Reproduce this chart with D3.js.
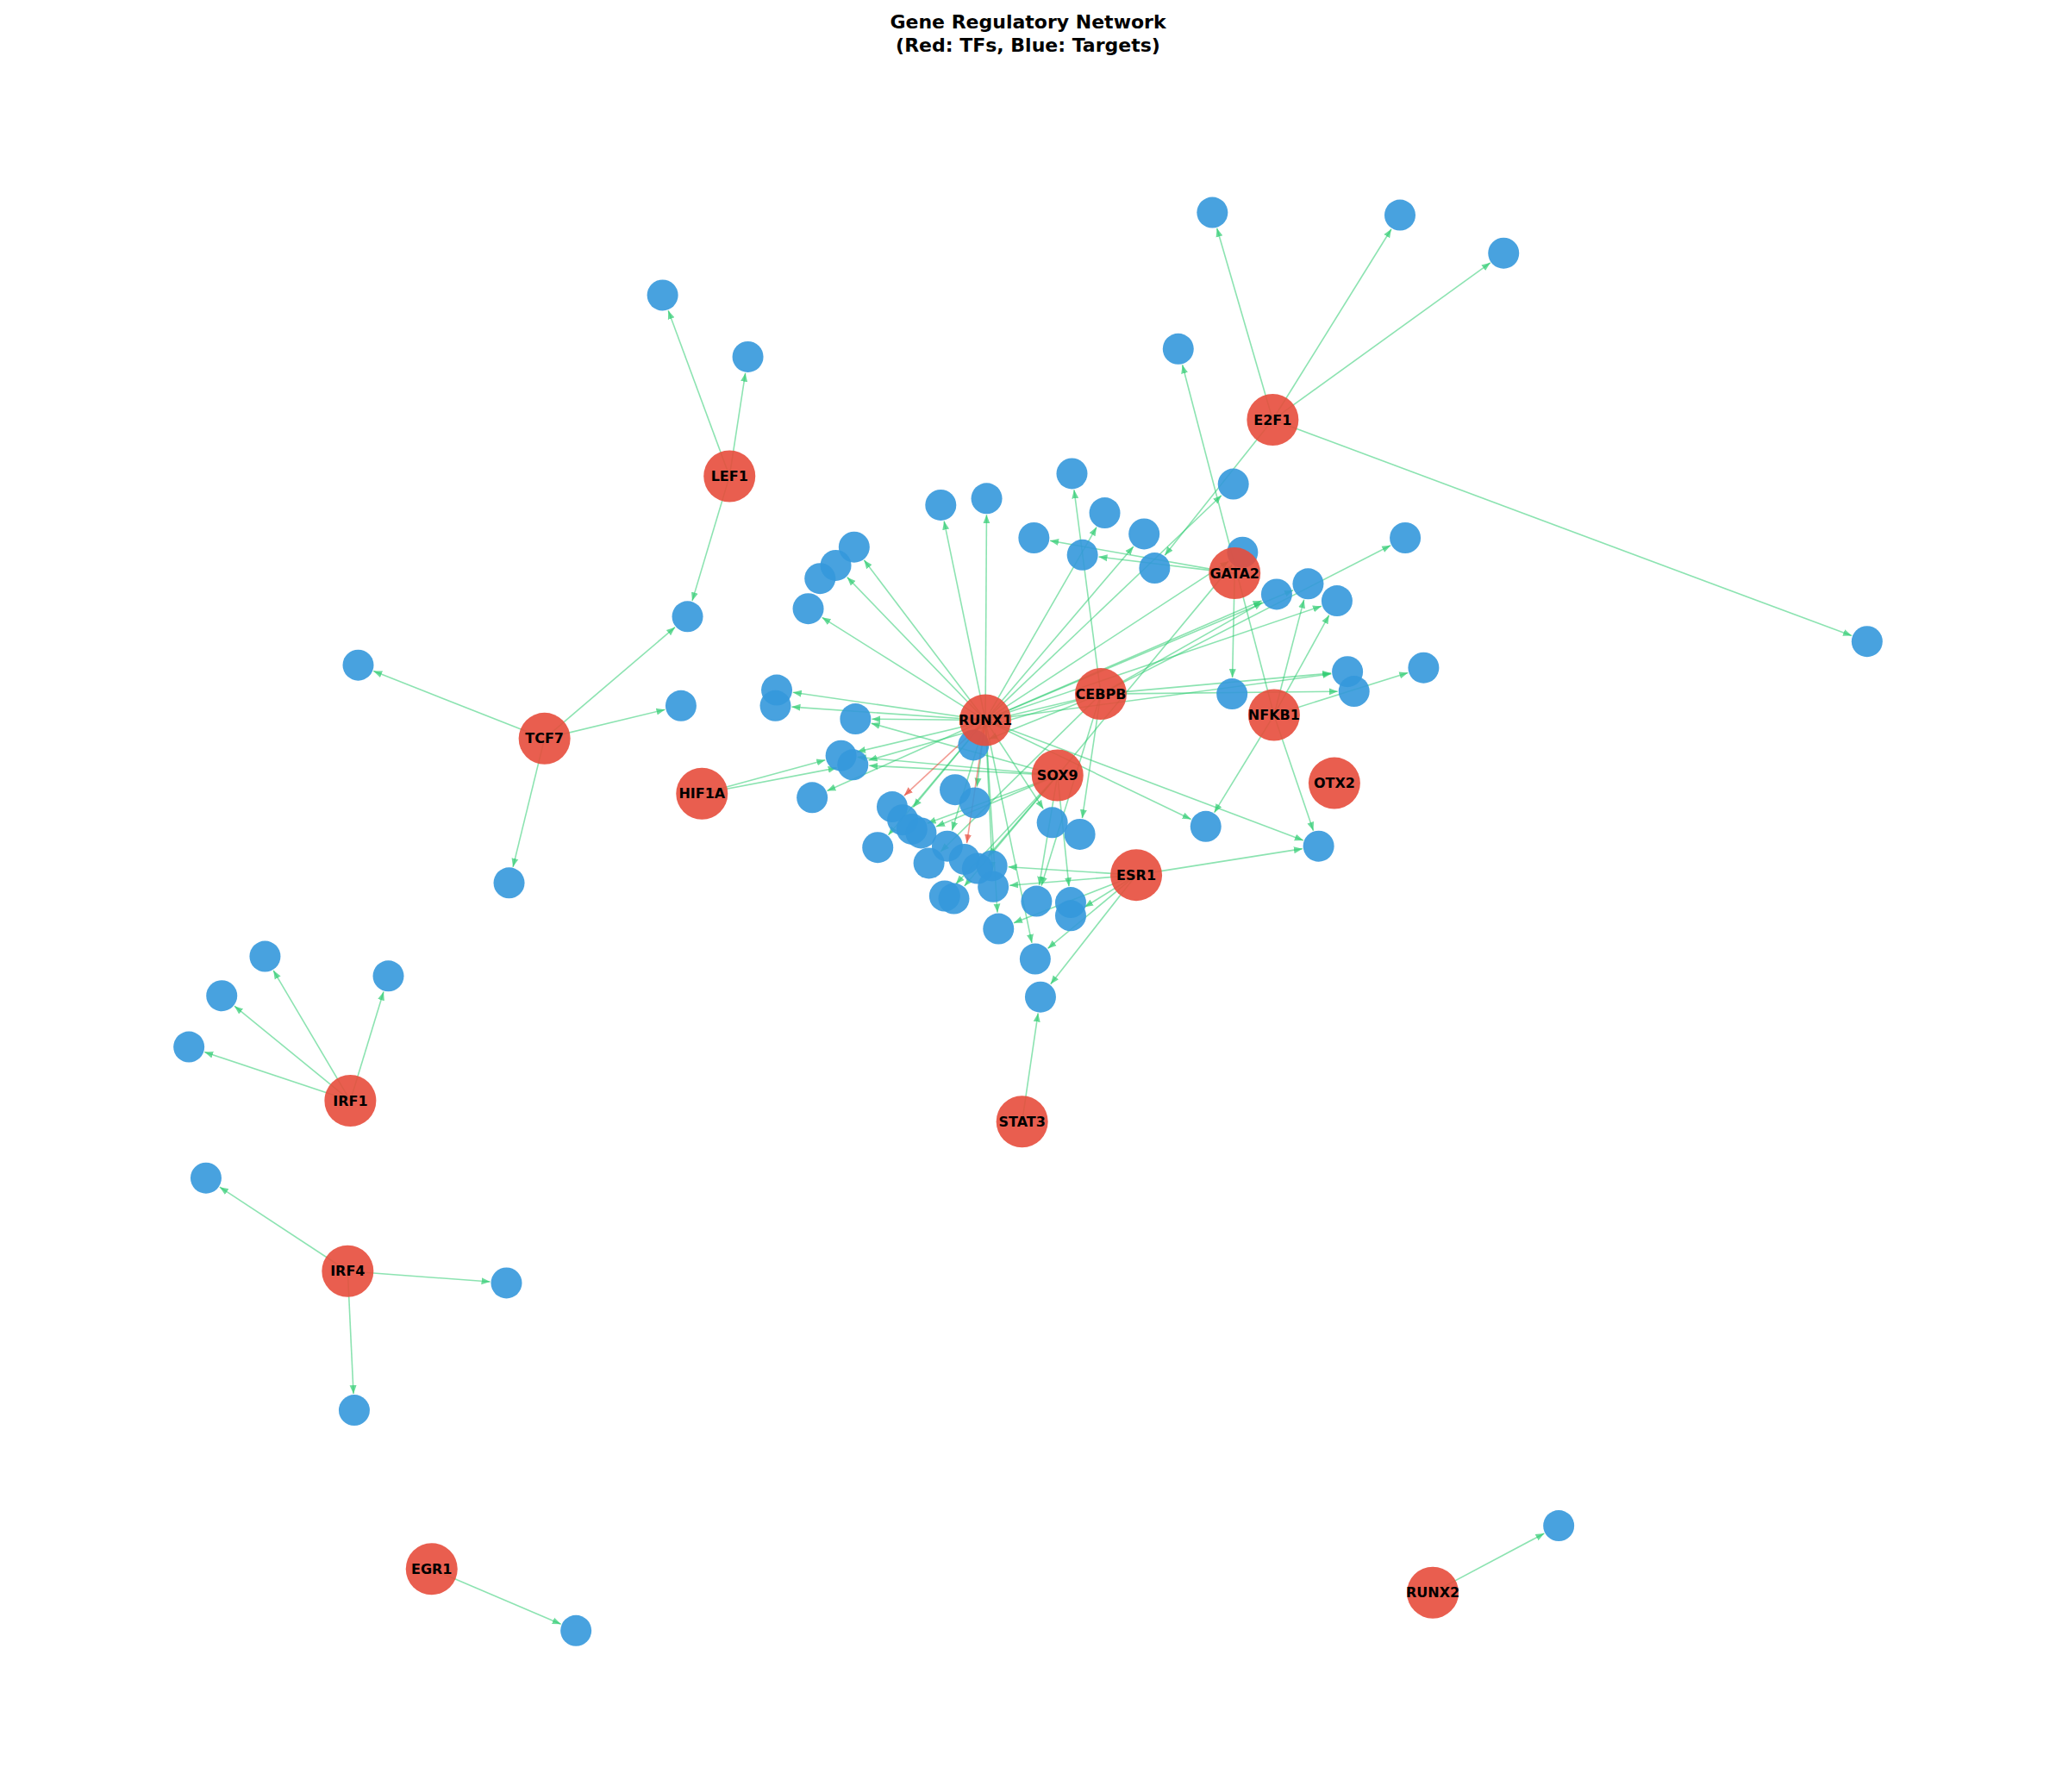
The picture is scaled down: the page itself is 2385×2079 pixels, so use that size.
<!DOCTYPE html>
<html><head><meta charset="utf-8">
<script src="https://cdn.jsdelivr.net/npm/d3@7"></script>
<style>body{margin:0;background:#fff;}</style>
</head><body><div id="graphic"></div>
<script>
// layout positions (layout units)
var tfs = [
  ["RUNX1",751,549],["CEBPB",839,529],["GATA2",941,437],["E2F1",970,320],["LEF1",556,363],
  ["TCF7",415,563],["HIF1A",535,605],["SOX9",806,591],["NFKB1",971,545],["OTX2",1017,597],
  ["ESR1",866,667],["STAT3",779,855],["IRF1",267,839],["IRF4",265,969],["EGR1",329,1196],["RUNX2",1092,1214]
];
var targets = [
  [924,162],[1067,164],[1146,193],[1423,489],[505,225],[570,272],[524,470],[273,507],[519,538],[388,673],
  [202,729],[169,759],[144,798],[296,744],[157,898],[386,978],[270,1075],[439,1243],[1188,1163],[793,760],
  [898,266],[788,410],[717,385],[752,380],[817,361],[842,391],[872,407],[825,423],[880,433],[940,369],
  [651,417],[637,431],[625,441],[616,464],[592,526],[591,538],[652,548],[641,576],[650,583],[619,608],
  [742,568],[728,602],[743,612],[680,615],[688,625],[695,632],[702,635],[669,646],[708,658],[722,645],
  [735,655],[745,662],[756,660],[757,676],[720,683],[727,685],[802,627],[823,636],[919,630],[1005,645],
  [790,687],[816,688],[816,698],[761,708],[789,731],[939,529],[947,421],[973,453],[997,445],[1019,458],
  [1027,512],[1032,527],[1071,410],[1085,509]
];
// regulator -> target numbers (T1 = first target)
var activations = [
  ["E2F1",[1,2,3,4,29]],["LEF1",[5,6,7]],["TCF7",[8,9,10,7]],["IRF1",[11,12,13,14]],
  ["IRF4",[15,16,17]],["EGR1",[18]],["RUNX2",[19]],["STAT3",[20]],
  ["NFKB1",[21,59,60,74,70,69]],["GATA2",[22,66,28]],
  ["RUNX1",[23,24,31,32,34,35,36,37,40,30,27,67,68,69,70,71,59,60,64,65,54,43,45,48,50,57,26]],
  ["CEBPB",[25,73,72,71,58,61,39,38,41,68,49]],
  ["SOX9",[62,61,38,39,46,47,52,55,56,37,67]],
  ["ESR1",[60,63,64,65,20,53,54]],["HIF1A",[38,39]]
];
var repressions = [["RUNX1",[44,51]]];

var W = 2385, H = 2079;
var x = d3.scaleLinear().domain([0,1567]).range([0,W]);
var y = d3.scaleLinear().domain([0,1366]).range([0,H]);
var rTF = 30, rT = 18;

var nodes = {};
tfs.forEach(function(d){ nodes[d[0]] = {name:d[0], x:d[1], y:d[2], tf:true}; });
targets.forEach(function(d,i){ nodes["T"+(i+1)] = {name:"T"+(i+1), x:d[0], y:d[1], tf:false}; });
var links = [];
activations.forEach(function(a){ a[1].forEach(function(t){ links.push({s:nodes[a[0]], t:nodes["T"+t], rep:false}); }); });
repressions.forEach(function(a){ a[1].forEach(function(t){ links.push({s:nodes[a[0]], t:nodes["T"+t], rep:true}); }); });

var svg = d3.select("#graphic").append("svg").attr("width", W).attr("height", H);
var defs = svg.append("defs");
[["g","#2ecc71"],["r","#e74c3c"]].forEach(function(m){
  defs.append("marker").attr("id","arr"+m[0]).attr("viewBox","0 0 10 10").attr("refX",10).attr("refY",5)
    .attr("markerWidth",10).attr("markerHeight",10).attr("markerUnits","userSpaceOnUse").attr("orient","auto")
    .append("path").attr("d","M0,1L10,5L0,9Z").attr("fill",m[1]).attr("opacity",0.7);
});

svg.append("g").selectAll("line").data(links).enter().append("line")
  .each(function(d){
    var x1 = x(d.s.x), y1 = y(d.s.y), x2 = x(d.t.x), y2 = y(d.t.y);
    var dx = x2-x1, dy = y2-y1, L = Math.sqrt(dx*dx+dy*dy) || 1;
    d3.select(this).attr("x1",x1).attr("y1",y1)
      .attr("x2",x2-dx/L*(rT+1)).attr("y2",y2-dy/L*(rT+1));
  })
  .attr("stroke", function(d){ return d.rep ? "#e74c3c" : "#2ecc71"; })
  .attr("stroke-opacity",0.55).attr("stroke-width",1.6)
  .attr("marker-end", function(d){ return d.rep ? "url(#arrr)" : "url(#arrg)"; });

var all = Object.keys(nodes).map(function(k){ return nodes[k]; });
all.sort(function(a,b){ return a.tf - b.tf; });
svg.append("g").selectAll("circle").data(all).enter().append("circle")
  .attr("cx", function(d){ return x(d.x); }).attr("cy", function(d){ return y(d.y); })
  .attr("r", function(d){ return d.tf ? rTF : rT; })
  .attr("fill", function(d){ return d.tf ? "#e74c3c" : "#3498db"; }).attr("fill-opacity",0.9);

svg.append("g").selectAll("text").data(all.filter(function(d){ return d.tf; })).enter().append("text")
  .attr("x", function(d){ return x(d.x); }).attr("y", function(d){ return y(d.y); })
  .attr("dy","0.35em").attr("text-anchor","middle")
  .style("font-family","DejaVu Sans").style("font-weight","bold").style("font-size","16px")
  .text(function(d){ return d.name; });

var title = svg.append("text").attr("x", W/2).attr("text-anchor","middle")
  .style("font-family","DejaVu Sans").style("font-weight","bold").style("font-size","22px");
title.append("tspan").attr("x",W/2).attr("y",33).text("Gene Regulatory Network");
title.append("tspan").attr("x",W/2).attr("y",60).text("(Red: TFs, Blue: Targets)");
</script>
</body></html>
